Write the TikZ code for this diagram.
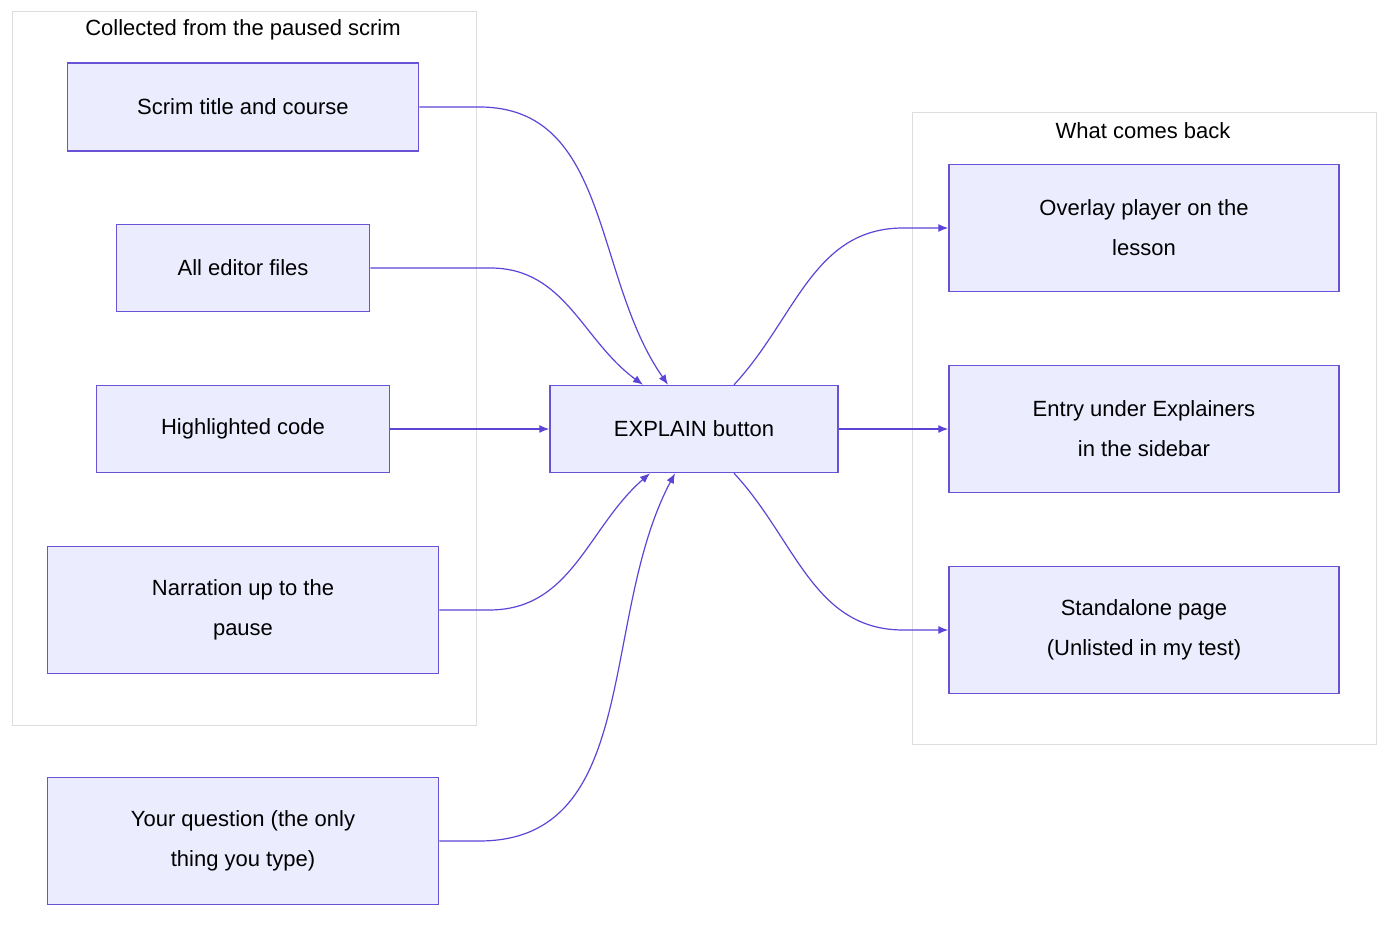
\documentclass[tikz,border=0pt]{standalone}
\usepackage{fontspec}
\setmainfont{Liberation Sans}
\usetikzlibrary{positioning, arrows.meta, calc}
\definecolor{boxfill}{HTML}{ECECFF}
\definecolor{boxline}{HTML}{6A52D6}
\definecolor{edgeline}{HTML}{5B45D6}
\definecolor{grouplin}{HTML}{DDDDDD}
\tikzset{
  stepbox/.style={draw=boxline, fill=boxfill, line width=1.5pt, align=center,
    inner sep=0pt, font=\fontsize{22}{40}\selectfont},
  group/.style={draw=grouplin, line width=1pt, fill=white},
  grouptitle/.style={font=\fontsize{22}{26}\selectfont},
  flow/.style={draw=edgeline, line width=1.2pt, -{Latex[length=10pt,width=8pt]}},
}
\begin{document}
\begin{tikzpicture}[x=1pt,y=1pt]
  \useasboundingbox (0,0) rectangle (1400,924);
  % Groups
  \draw[group] (12,198) rectangle (476,912);
  \node[grouptitle] (collected) at (243,894) {Collected from the paused scrim};
  \draw[group] (912,179) rectangle (1376,811);
  \node[grouptitle] (comesback) at (1143,793) {What comes back};

  % Inputs
  \node[stepbox, minimum width=351, minimum height=88] (scrim) at (243,817) {Scrim title and course};
  \node[stepbox, minimum width=253, minimum height=87] (files) at (243,656) {All editor files};
  \node[stepbox, minimum width=293, minimum height=87] (code) at (243,495) {Highlighted code};
  \node[stepbox, minimum width=391, minimum height=127] (narration) at (243,314) {Narration up to the\\pause};
  \node[stepbox, minimum width=391, minimum height=127] (question) at (243,83) {Your question (the only\\thing you type)};

  % Button
  \node[stepbox, minimum width=288, minimum height=87] (explain) at (694,495) {EXPLAIN button};

  % Outputs
  \node[stepbox, minimum width=390, minimum height=127] (overlay) at (1144,696) {Overlay player on the\\lesson};
  \node[stepbox, minimum width=390, minimum height=127] (entry) at (1144,495) {Entry under Explainers\\in the sidebar};
  \node[stepbox, minimum width=390, minimum height=127] (standalone) at (1144,294) {Standalone page\\(Unlisted in my test)};

  % Arrows
  \draw[flow] (scrim.east) -- ++(60,0) to[out=0,in=125] ([xshift=-26]explain.north);
  \draw[flow] (files.east) -- ++(120,0) to[out=0,in=144] ([xshift=-51]explain.north);
  \draw[flow] (code.east) -- (explain.west);
  \draw[flow] (narration.east) -- ++(50,0) to[out=0,in=-139] ([xshift=-44]explain.south);
  \draw[flow] (question.east) -- ++(40,0) to[out=0,in=-118] ([xshift=-19]explain.south);

  \draw[flow] ([xshift=40]explain.north) to[out=47,in=180] ($(overlay.west)+(-45,0)$) -- (overlay.west);
  \draw[flow] (explain.east) -- (entry.west);
  \draw[flow] ([xshift=40]explain.south) to[out=-47,in=180] ($(standalone.west)+(-45,0)$) -- (standalone.west);
\end{tikzpicture}
\end{document}
